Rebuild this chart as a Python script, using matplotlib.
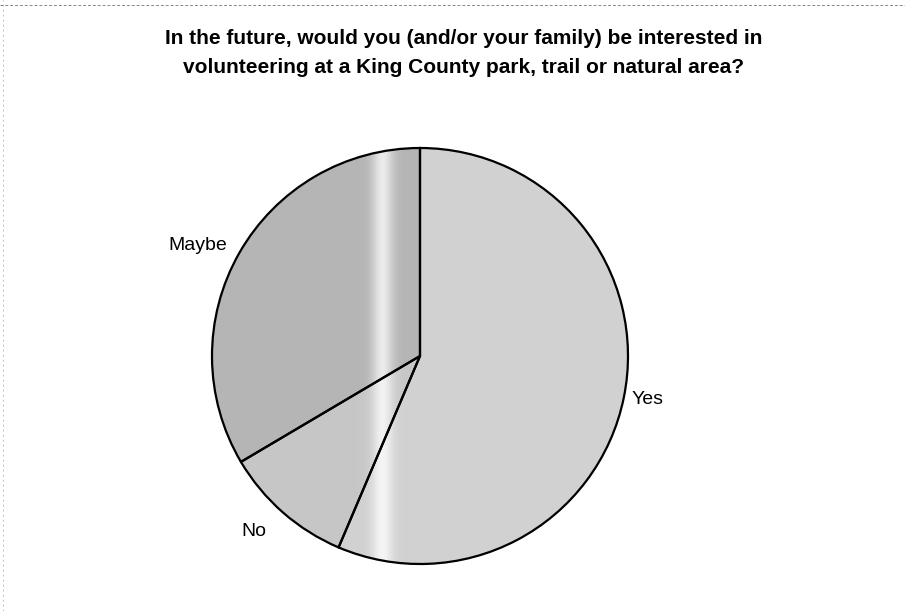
import numpy as np
import matplotlib
matplotlib.use("Agg")
import matplotlib.pyplot as plt
from matplotlib.lines import Line2D

plt.rcParams.update({
    "font.family": ["Liberation Sans", "DejaVu Sans"],
})

# ============================
# Data
# ============================
labels = ["Yes", "No", "Maybe"]
shares = [56.4, 10.1, 33.5]
base_gray = [0.82, 0.78, 0.71]
band_gray = [0.14, 0.17, 0.21]
label_dist = [1.04, 1.12, 1.07]
title_lines = ["In the future, would you (and/or your family) be interested in",
               "volunteering at a King County park, trail or natural area?"]

# ============================
# Figure
# ============================
W, H = 905, 611
fig = plt.figure(figsize=(W / 100, H / 100), dpi=100)
fig.patch.set_facecolor("white")

cx, cy, r = 420, 356, 208
ax = fig.add_axes([(cx - r) / W, (H - cy - r) / H, 2 * r / W, 2 * r / H])

wedges, texts = ax.pie(
    shares, labels=labels, startangle=90, counterclock=False, radius=1,
    colors=["none"] * 3, labeldistance=1.07,
    wedgeprops=dict(edgecolor="black", linewidth=1.6),
    textprops=dict(fontsize=14, color="black"),
)

# per-label distance from the centre
for w, t, d in zip(wedges, texts, label_dist):
    ang = np.deg2rad((w.theta1 + w.theta2) / 2)
    t.set_position((d * np.cos(ang), d * np.sin(ang)))

# gradient fill (light vertical band like the original)
xs = np.linspace(-1, 1, 800)
for w, g0, gb in zip(wedges, base_gray, band_gray):
    prof = g0 + gb * np.exp(-((xs + 0.18) / 0.05) ** 2)
    prof = np.clip(prof, 0, 1)
    img = np.repeat(prof[None, :, None], 3, axis=2)
    im = ax.imshow(img, extent=(-1, 1, -1, 1), origin="lower",
                   interpolation="bilinear", zorder=0.5)
    im.set_clip_path(w)

for w in wedges:
    w.set_zorder(1)

ax.set_xlim(-1, 1)
ax.set_ylim(-1, 1)
ax.set_aspect("equal")
ax.axis("off")

# title (two lines)
for txt, yb in zip(title_lines, [44, 73]):
    fig.text(464 / W, 1 - yb / H, txt, ha="center", va="baseline",
             fontsize=15, fontweight="bold")

# faint scan border
fig.add_artist(Line2D([0, 1], [1 - 5 / H, 1 - 5 / H], transform=fig.transFigure,
                      color="#888888", lw=0.7, ls=(0, (3, 2))))
fig.add_artist(Line2D([3 / W, 3 / W], [0, 1], transform=fig.transFigure,
                      color="#aaaaaa", lw=0.6, ls=(0, (2, 4))))

fig.savefig("out.png", dpi=100)
